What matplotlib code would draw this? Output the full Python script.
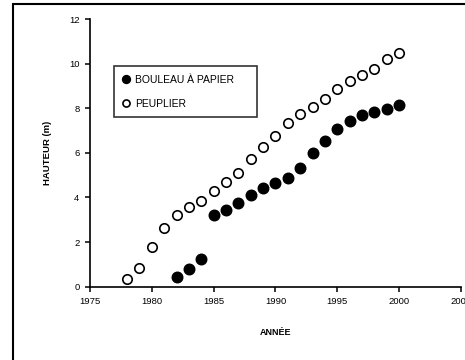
import matplotlib.pyplot as plt
from matplotlib.patches import Rectangle

# --- Donnees ---
annees_peuplier = list(range(1978, 2001))
hauteur_peuplier = [0.33, 0.85, 1.76, 2.65, 3.2, 3.56, 3.83, 4.28, 4.71, 5.08, 5.71, 6.26,
                    6.77, 7.32, 7.76, 8.04, 8.4, 8.85, 9.21, 9.48, 9.75, 10.19, 10.46]
annees_bouleau = list(range(1982, 2001))
hauteur_bouleau = [0.42, 0.78, 1.24, 3.2, 3.45, 3.75, 4.1, 4.44, 4.63, 4.89, 5.34, 5.98,
                   6.52, 7.06, 7.41, 7.68, 7.85, 7.95, 8.13]

plt.rcParams['font.family'] = ['Liberation Sans', 'DejaVu Sans']

fig = plt.figure(figsize=(4.65, 3.6), dpi=100)
ax = fig.add_axes([0.1935, 0.2036, 0.7978, 0.7436])

# cadre exterieur
fig.patches.append(Rectangle((12.7 / 465, -0.5), 2, 1.5 - 4 / 360, transform=fig.transFigure,
                             fill=False, edgecolor='black', lw=1.5))

ax.plot(annees_bouleau, hauteur_bouleau, 'o', ms=7.6, mfc='black', mec='black',
        label='BOULEAU À PAPIER', clip_on=False)
ax.plot(annees_peuplier, hauteur_peuplier, 'o', ms=6.8, mfc='white', mec='black', mew=1.2,
        label='PEUPLIER', clip_on=False)

ax.set_xlim(1975, 2005)
ax.set_ylim(0, 12)
ax.set_xticks(range(1975, 2006, 5))
ax.set_yticks(range(0, 13, 2))

for s in ['top', 'right']:
    ax.spines[s].set_visible(False)
for s in ['left', 'bottom']:
    ax.spines[s].set_linewidth(1.2)
ax.tick_params(direction='out', length=3.5, width=1.1, labelsize=6.8, pad=4)

ax.set_ylabel('HAUTEUR (m)', fontsize=6.8, fontweight='bold', labelpad=12)
ax.set_xlabel('ANNÉE', fontsize=6.5, fontweight='bold', labelpad=16)

# legende : boite elargie comme sur l'original
leg = ax.legend(loc='upper left', bbox_to_anchor=(0.0647, 0.824, 0.385, 0.0), mode='expand',
                borderaxespad=0, fontsize=7.5, markerscale=0.75, handlelength=0.6,
                handletextpad=0.6, labelspacing=1.3, borderpad=0.85, fancybox=False,
                frameon=True)
leg.get_frame().set_edgecolor('black')
leg.get_frame().set_linewidth(1.2)

fig.savefig('out.png', dpi=100)
